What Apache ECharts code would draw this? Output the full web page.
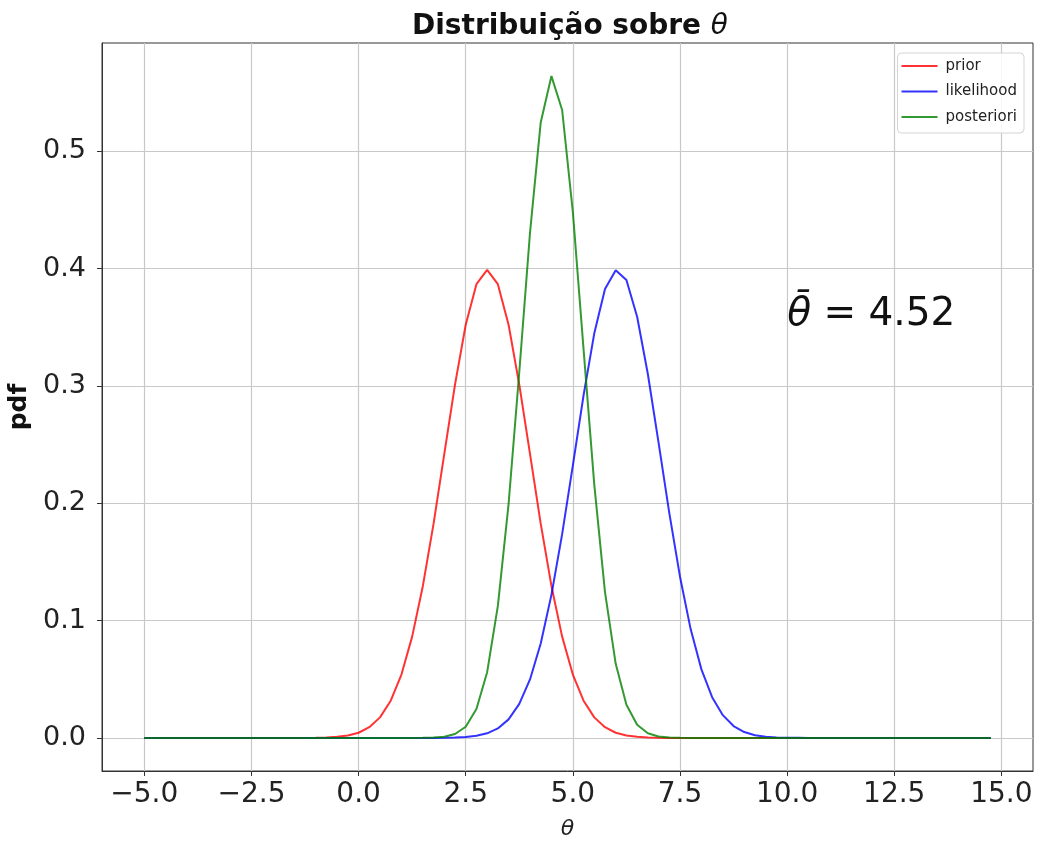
<!DOCTYPE html>
<html>
<head>
<meta charset="utf-8">
<title>Distribuição sobre θ</title>
<script src="https://cdn.jsdelivr.net/npm/echarts@6/dist/echarts.min.js"></script>
<style>
  html, body { margin: 0; padding: 0; background: #fff; }
  #chart { width: 1038px; height: 842px; }
</style>
</head>
<body>
<div id="chart"></div>
<script>
// grade de theta (passo 0.25)
const thetaValues = [
  -5, -4.75, -4.5, -4.25, -4, -3.75, -3.5, -3.25, -3, -2.75, -2.5, -2.25, -2, -1.75, -1.5, -1.25, -1, -0.75, -0.5, -0.25,
  0, 0.25, 0.5, 0.75, 1, 1.25, 1.5, 1.75, 2, 2.25, 2.5, 2.75, 3, 3.25, 3.5, 3.75, 4, 4.25, 4.5, 4.75,
  5, 5.25, 5.5, 5.75, 6, 6.25, 6.5, 6.75, 7, 7.25, 7.5, 7.75, 8, 8.25, 8.5, 8.75, 9, 9.25, 9.5, 9.75,
  10, 10.25, 10.5, 10.75, 11, 11.25, 11.5, 11.75, 12, 12.25, 12.5, 12.75, 13, 13.25, 13.5, 13.75, 14, 14.25, 14.5, 14.75
];

const priorPdf = [
  0, 0, 0, 0, 0, 0, 0, 0, 0, 0, 0, 0, 0, 0, 0, 0, 0.0001, 0.0004, 0.0009, 0.0020,
  0.0044, 0.0091, 0.0175, 0.0317, 0.0540, 0.0863, 0.1295, 0.1826, 0.2420, 0.3011, 0.3521, 0.3867, 0.3989, 0.3867, 0.3521, 0.3011, 0.2420, 0.1826, 0.1295, 0.0863,
  0.0540, 0.0317, 0.0175, 0.0091, 0.0044, 0.0020, 0.0009, 0.0004, 0.0001, 0, 0, 0, 0, 0, 0, 0, 0, 0, 0, 0,
  0, 0, 0, 0, 0, 0, 0, 0, 0, 0, 0, 0, 0, 0, 0, 0, 0, 0, 0, 0
];

const likelihoodPdf = [
  0, 0, 0, 0, 0, 0, 0, 0, 0, 0, 0, 0, 0, 0, 0, 0, 0, 0, 0, 0,
  0, 0, 0, 0, 0, 0, 0, 0, 0.0001, 0.0003, 0.0008, 0.0018, 0.0039, 0.0081, 0.0158, 0.0290, 0.0498, 0.0804, 0.1219, 0.1736,
  0.2323, 0.2920, 0.3448, 0.3825, 0.3986, 0.3902, 0.3589, 0.3101, 0.2516, 0.1918, 0.1374, 0.0925, 0.0584, 0.0347, 0.0194, 0.0101, 0.0050, 0.0023, 0.0010, 0.0004,
  0.0002, 0.0001, 0, 0, 0, 0, 0, 0, 0, 0, 0, 0, 0, 0, 0, 0, 0, 0, 0, 0
];

const posterioriPdf = [
  0, 0, 0, 0, 0, 0, 0, 0, 0, 0, 0, 0, 0, 0, 0, 0, 0, 0, 0, 0,
  0, 0, 0, 0, 0, 0, 0.0001, 0.0003, 0.0010, 0.0033, 0.0095, 0.0246, 0.0560, 0.1125, 0.1993, 0.3118, 0.4305, 0.5245, 0.5640, 0.5351,
  0.4481, 0.3311, 0.2159, 0.1243, 0.0631, 0.0283, 0.0112, 0.0039, 0.0012, 0.0003, 0.0001, 0, 0, 0, 0, 0, 0, 0, 0, 0,
  0, 0, 0, 0, 0, 0, 0, 0, 0, 0, 0, 0, 0, 0, 0, 0, 0, 0, 0, 0
];

const xTicks = [-5, -2.5, 0, 2.5, 5, 7.5, 10, 12.5, 15];
const yTicks = [0, 0.1, 0.2, 0.3, 0.4, 0.5];

const thetaBar = 4.52;

const FONT = "DejaVu Sans";
const TXT = "#222";

function pairs(ys) {
  return thetaValues.map((x, i) => [x, ys[i]]);
}

function fmtTick(v) {
  return v.toFixed(1).replace("-", "\u2212");
}

function makeLine(name, color, ys) {
  return {
    name: name,
    type: "line",
    data: pairs(ys),
    showSymbol: false,
    symbol: "none",
    smooth: false,
    color: color,
    lineStyle: { width: 2, color: color },
  };
}

const chart = echarts.init(document.getElementById("chart"));

const option = {
  animation: false,
  backgroundColor: "#fff",
  title: {
    text: "{b|Distribuição sobre }{i|θ}",
    left: 565,
    textAlign: "center",
    top: 8,
    textStyle: {
      rich: {
        b: { fontFamily: FONT, fontWeight: "bold", fontSize: 28, color: "#111" },
        i: { fontFamily: FONT, fontStyle: "italic", fontWeight: "normal", fontSize: 28, color: "#111" },
      },
    },
  },
  legend: {
    orient: "vertical",
    right: 14,
    top: 53,
    padding: [5, 7, 8, 4],
    itemWidth: 36,
    itemHeight: 2,
    itemGap: 9.5,
    icon: "rect",
    backgroundColor: "rgba(255,255,255,0.85)",
    borderColor: "#d4d4d4",
    borderWidth: 1,
    borderRadius: 4,
    textStyle: {
      fontFamily: FONT,
      fontSize: 15,
      lineHeight: 16,
      color: TXT,
      padding: [0, 0, 0, 3],
    },
    data: ["prior", "likelihood", "posteriori"],
  },
  grid: {
    left: 102,
    right: 5,
    top: 43,
    bottom: 71,
    show: true,
    borderColor: "#333",
    borderWidth: 1,
    containLabel: false,
    outerBoundsMode: "none",
  },
  xAxis: {
    type: "value",
    min: -5.9875,
    max: 15.7375,
    name: "θ",
    nameLocation: "middle",
    nameGap: 47,
    nameTextStyle: { fontFamily: FONT, fontStyle: "italic", fontSize: 22, color: TXT },
    axisLine: { show: true, onZero: false, lineStyle: { color: "#333", width: 1 } },
    axisTick: { show: true, length: 5, customValues: xTicks, lineStyle: { color: "#333" } },
    axisLabel: {
      customValues: xTicks,
      formatter: fmtTick,
      fontFamily: FONT,
      fontSize: 28,
      color: TXT,
      margin: 10,
    },
    splitLine: { show: true, lineStyle: { color: "#c8c8c8", width: 1.2 } },
  },
  yAxis: {
    type: "value",
    min: -0.0282,
    max: 0.5922,
    name: "pdf",
    nameLocation: "middle",
    nameRotate: 90,
    nameGap: 65,
    nameTextStyle: { fontFamily: FONT, fontWeight: "bold", fontSize: 25, color: "#111" },
    axisLine: { show: true, onZero: false, lineStyle: { color: "#333", width: 1 } },
    axisTick: { show: true, length: 5, customValues: yTicks, lineStyle: { color: "#333" } },
    axisLabel: {
      customValues: yTicks,
      formatter: fmtTick,
      fontFamily: FONT,
      fontSize: 27,
      color: TXT,
      margin: 16,
    },
    splitLine: { show: true, lineStyle: { color: "#c8c8c8", width: 1.2 } },
  },
  series: [
    makeLine("prior", "rgba(255,0,0,0.8)", priorPdf),
    makeLine("likelihood", "rgba(0,0,255,0.8)", likelihoodPdf),
    makeLine("posteriori", "rgba(0,128,0,0.8)", posterioriPdf),
  ],
};

chart.setOption(option);

// anotação da média a posteriori em (10, 0.35)
const p = chart.convertToPixel({ gridIndex: 0 }, [10, 0.35]);
chart.setOption({
  graphic: [
    {
      type: "text",
      x: p[0],
      y: p[1] + 7,
      style: {
        text: "{i|θ\u0304} = " + thetaBar.toFixed(2),
        align: "left",
        verticalAlign: "bottom",
        fontFamily: FONT,
        fontSize: 39,
        fill: "#111",
        rich: {
          i: { fontFamily: FONT, fontStyle: "italic", fontSize: 39, fill: "#111" },
        },
      },
    },
  ],
});
</script>
</body>
</html>
